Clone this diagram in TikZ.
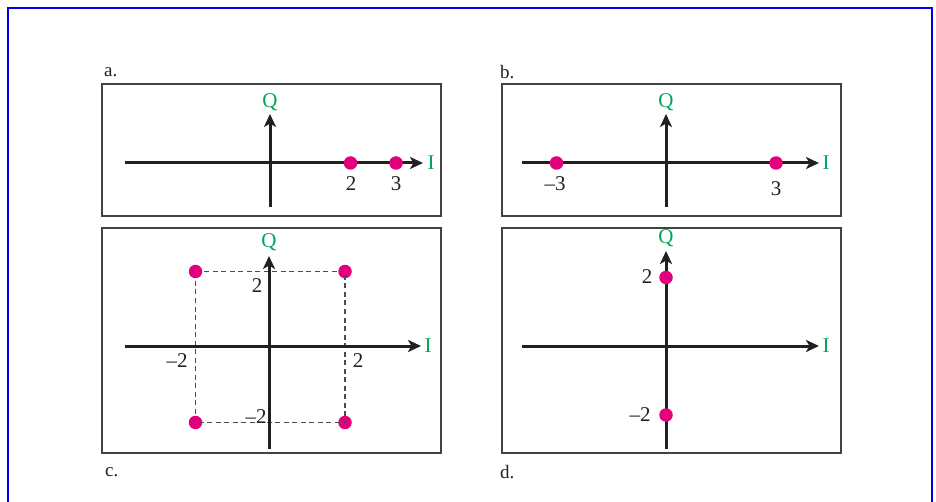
\documentclass[tikz,border=0pt]{standalone}
\usepackage{fontspec}
\setmainfont{Liberation Serif}
\usetikzlibrary{arrows.meta}
\definecolor{axgreen}{RGB}{0,166,90}
\definecolor{dotmag}{RGB}{228,0,124}
\definecolor{axblack}{RGB}{35,31,32}
\definecolor{framecol}{RGB}{0,0,235}
\begin{document}
\begin{tikzpicture}[x=1pt,y=-1pt,
  panel/.style={draw=axblack!85,line width=1.5pt},
  axis/.style={draw=axblack,line width=3pt,-{Stealth[length=13pt,width=12pt,inset=3.5pt]}},
  axlab/.style={text=axgreen,font=\fontsize{21}{21}\selectfont,inner sep=0pt},
  num/.style={text=axblack,font=\fontsize{21}{21}\selectfont,inner sep=0pt},
  plab/.style={text=axblack,font=\fontsize{19}{19}\selectfont,inner sep=0pt,anchor=west},
  pt/.style={circle,fill=dotmag,minimum size=13.5pt,inner sep=0pt},
  dashln/.style={draw=axblack!80,line width=1.5pt,dash pattern=on 5pt off 3.5pt}]
\useasboundingbox (0,0) rectangle (936,502);
\draw[framecol,line width=2.2pt] (8,503) -- (8,8) -- (932,8) -- (932,503);

% ---------- panel a ----------
\node[plab] (la) at (104,72) {a.};
\draw[panel] (102,84) rectangle (441,216);
\coordinate (aL) at (125,163);
\coordinate (aR) at (423,163);
\coordinate (aB) at (270,207);
\coordinate (aT) at (270,114);
\draw[axis] (aL) -- (aR);
\draw[axis] (aB) -- (aT);
\node[axlab] (aQ) at (270,102) {Q};
\node[axlab] (aI) at (431,163) {I};
\node[pt] (a2) at (350.5,163) {};
\node[pt] (a3) at (396,163) {};
\node[num] (a2l) at (351,184) {2};
\node[num] (a3l) at (396,184) {3};

% ---------- panel b ----------
\node[plab] (lb) at (500,72) {b.};
\draw[panel] (502,84) rectangle (841,216);
\coordinate (bL) at (522,163);
\coordinate (bR) at (819,163);
\coordinate (bB) at (666,207);
\coordinate (bT) at (666,114);
\draw[axis] (bL) -- (bR);
\draw[axis] (bB) -- (bT);
\node[axlab] (bQ) at (666,102) {Q};
\node[axlab] (bI) at (826,163) {I};
\node[pt] (bm3) at (556.5,163) {};
\node[pt] (bp3) at (776,163) {};
\node[num] (bm3l) at (555,184) {–3};
\node[num] (bp3l) at (776,189) {3};

% ---------- panel c ----------
\draw[panel] (102,228) rectangle (441,453);
\node[plab] (lc) at (105,472) {c.};
\node[pt] (c1) at (195.5,271.5) {};
\node[pt] (c2) at (345,271.5) {};
\node[pt] (c3) at (195.5,422.5) {};
\node[pt] (c4) at (345,422.5) {};
\draw[dashln] (c1.center) -- (c2.center) -- (c4.center) -- (c3.center) -- (c1.center);
\coordinate (cL) at (125,346);
\coordinate (cR) at (421,346);
\coordinate (cB) at (269,449);
\coordinate (cT) at (269,256);
\draw[axis] (cL) -- (cR);
\draw[axis] (cB) -- (cT);
\node[axlab] (cQ) at (269,242) {Q};
\node[axlab] (cI) at (428,346) {I};
\node[num] (c2y) at (257,286) {2};
\node[num] (cm2x) at (177,361) {–2};
\node[num] (c2x) at (358,361) {2};
\node[num] (cm2y) at (256,417) {–2};

% ---------- panel d ----------
\draw[panel] (502,228) rectangle (841,453);
\node[plab] (ld) at (500,472) {d.};
\coordinate (dL) at (522,346);
\coordinate (dR) at (819,346);
\coordinate (dB) at (666,449);
\coordinate (dT) at (666,251);
\draw[axis] (dL) -- (dR);
\draw[axis] (dB) -- (dT);
\node[axlab] (dQ) at (666,238) {Q};
\node[axlab] (dI) at (826,346) {I};
\node[pt] (dp2) at (666,277.5) {};
\node[pt] (dm2) at (666,415) {};
\node[num] (dp2l) at (647,277) {2};
\node[num] (dm2l) at (640,415) {–2};
\end{tikzpicture}
\end{document}
